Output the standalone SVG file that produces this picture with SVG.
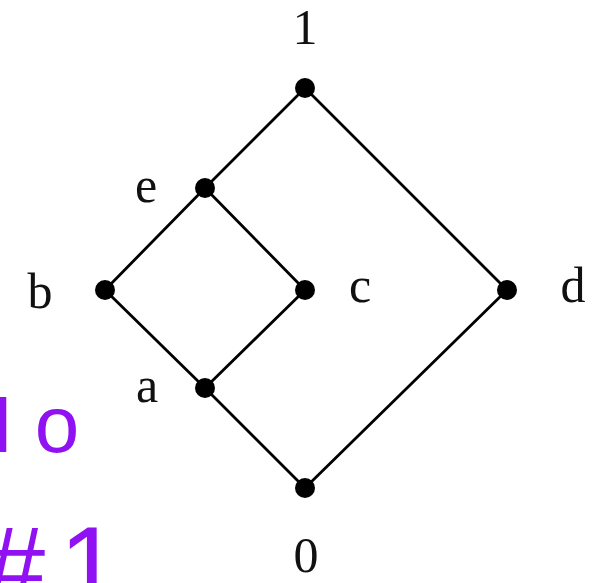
<svg xmlns="http://www.w3.org/2000/svg" width="596" height="583" viewBox="0 0 596 583">
<style>
.edge{stroke:#000;stroke-width:2.8;fill:none;stroke-linecap:round}
.dot{fill:#000}
.lbl{font-family:"Liberation Serif",serif;font-size:50px;fill:#111;text-anchor:middle}
.ink{font-family:"Liberation Sans",sans-serif;fill:#9012f2}
</style>
<rect width="596" height="583" fill="#fff"/>
<g id="connectors">
<line class="edge" x1="305" y1="88" x2="205" y2="188"/>
<line class="edge" x1="305" y1="88" x2="507" y2="290"/>
<line class="edge" x1="205" y1="188" x2="105" y2="290"/>
<line class="edge" x1="205" y1="188" x2="305" y2="290"/>
<line class="edge" x1="105" y1="290" x2="205" y2="388"/>
<line class="edge" x1="305" y1="290" x2="205" y2="388"/>
<line class="edge" x1="205" y1="388" x2="305" y2="488"/>
<line class="edge" x1="507" y1="290" x2="305" y2="488"/>
</g>
<g id="node-1"><circle class="dot" cx="305" cy="88" r="10"/><text class="lbl" x="305" y="44">1</text></g>
<g id="node-e"><circle class="dot" cx="205" cy="188" r="10"/><text class="lbl" x="146" y="202">e</text></g>
<g id="node-b"><circle class="dot" cx="105" cy="290" r="10"/><text class="lbl" x="40" y="308">b</text></g>
<g id="node-c"><circle class="dot" cx="305" cy="290" r="10"/><text class="lbl" x="360" y="302">c</text></g>
<g id="node-d"><circle class="dot" cx="507" cy="290" r="10"/><text class="lbl" x="573" y="302">d</text></g>
<g id="node-a"><circle class="dot" cx="205" cy="388" r="10"/><text class="lbl" x="147" y="402">a</text></g>
<g id="node-0"><circle class="dot" cx="305" cy="488" r="10"/><text class="lbl" x="306" y="572">0</text></g>
<g id="annotation">
<text class="ink" x="-45" y="452" font-size="80">N<tspan dx="22">o</tspan></text>
<text class="ink" x="-16" y="603" font-size="110">#<tspan dx="14">1</tspan></text>
</g>
</svg>
